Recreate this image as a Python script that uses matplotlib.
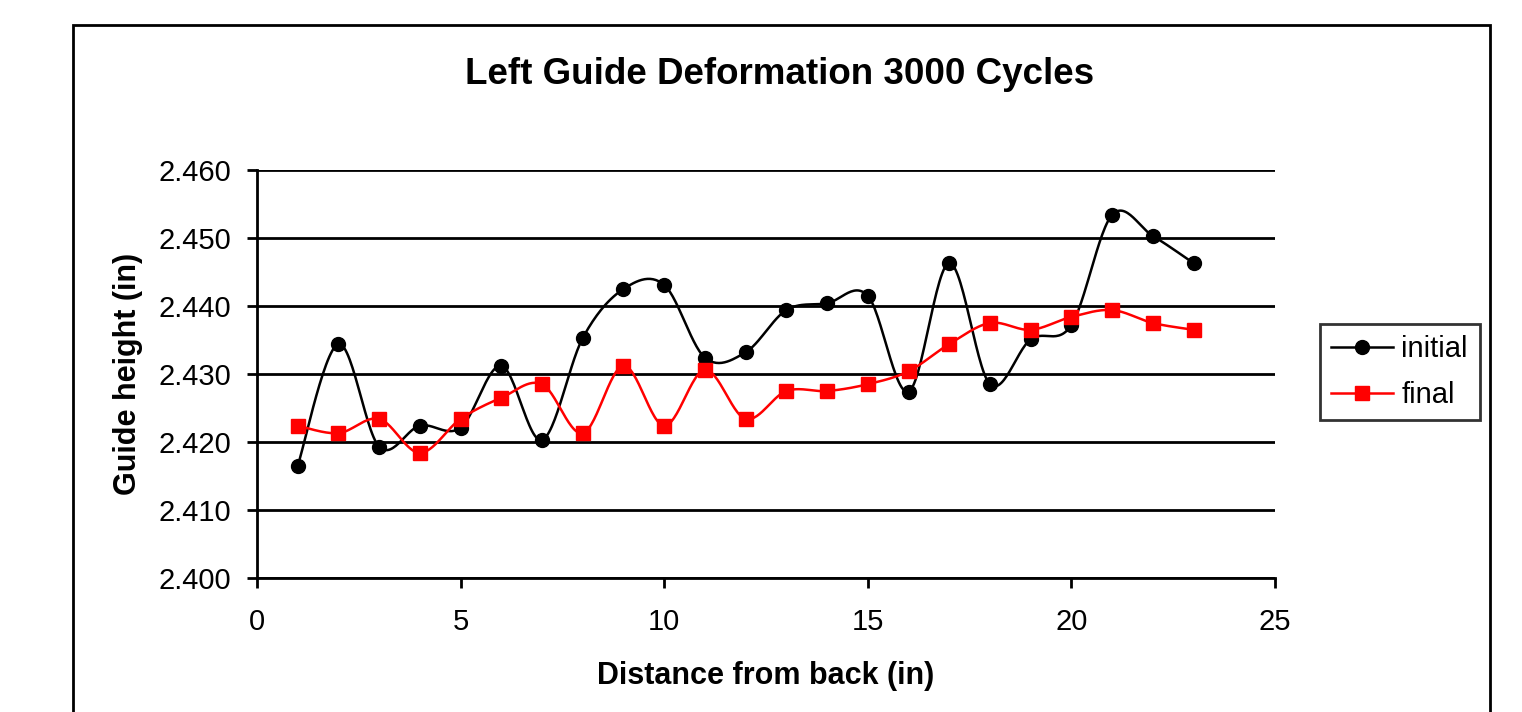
import numpy as np
import matplotlib
matplotlib.use("Agg")
import matplotlib.pyplot as plt
from matplotlib.patches import Rectangle

plt.rcParams['font.family'] = ['Liberation Sans', 'DejaVu Sans']

distance = list(range(1, 24))
initial = [2.4165, 2.4344, 2.4193, 2.4224, 2.4221, 2.4312, 2.4203, 2.4353,
           2.4425, 2.4431, 2.4324, 2.4332, 2.4394, 2.4404, 2.4415, 2.4274,
           2.4463, 2.4285, 2.4351, 2.4372, 2.4534, 2.4503, 2.4463]
final = [2.4224, 2.4213, 2.4234, 2.4184, 2.4234, 2.4265, 2.4285, 2.4213,
         2.4312, 2.4224, 2.4306, 2.4234, 2.4275, 2.4275, 2.4285, 2.4304,
         2.4344, 2.4375, 2.4365, 2.4384, 2.4394, 2.4375, 2.4365]
y_ticks = [2.400, 2.410, 2.420, 2.430, 2.440, 2.450, 2.460]
x_ticks = [0, 5, 10, 15, 20, 25]


def smooth_curve(xs, ys, steps=30):
    # Excel-style smoothed line: cubic Bezier through each point
    xs = np.asarray(xs, float)
    ys = np.asarray(ys, float)
    n = len(xs)
    px, py = [], []
    for i in range(n - 1):
        x0, y0 = (xs[i - 1], ys[i - 1]) if i > 0 else (xs[i], ys[i])
        x3, y3 = (xs[i + 2], ys[i + 2]) if i + 2 < n else (xs[i + 1], ys[i + 1])
        c1x = xs[i] + (xs[i + 1] - x0) / 6
        c1y = ys[i] + (ys[i + 1] - y0) / 6
        c2x = xs[i + 1] - (x3 - xs[i]) / 6
        c2y = ys[i + 1] - (y3 - ys[i]) / 6
        t = np.linspace(0, 1, steps)
        a, b, c, d = (1 - t) ** 3, 3 * (1 - t) ** 2 * t, 3 * (1 - t) * t ** 2, t ** 3
        px.extend(a * xs[i] + b * c1x + c * c2x + d * xs[i + 1])
        py.extend(a * ys[i] + b * c1y + c * c2y + d * ys[i + 1])
    return px, py


fig = plt.figure(figsize=(15.22, 7.12), dpi=100)
fig.patches.append(Rectangle((73 / 1522, -0.1), (1490 - 73) / 1522, 1.1 - 25 / 712,
                             transform=fig.transFigure, fill=False,
                             edgecolor='black', linewidth=2))

ax = fig.add_axes([257 / 1522, 1 - 578 / 712, (1275 - 257) / 1522, 408 / 712])

for ys, color, marker, label in [(initial, 'black', 'o', 'initial'),
                                 (final, 'red', 's', 'final')]:
    sx, sy = smooth_curve(distance, ys)
    ax.plot(sx, sy, color=color, linewidth=1.8, zorder=3)
    ax.plot(distance, ys, linestyle='none', marker=marker, color=color,
            markersize=10, zorder=4)
    ax.plot([], [], color=color, marker=marker, markersize=10, linewidth=1.8,
            label=label)

ax.set_xlim(0, 25)
ax.set_ylim(2.400, 2.460)
ax.set_xticks(x_ticks)
ax.set_yticks(y_ticks)
ax.set_yticklabels([f"{v:.3f}" for v in y_ticks])
ax.grid(axis='y', color='black', linewidth=2)
ax.set_axisbelow(True)
for side in ['top', 'right']:
    ax.spines[side].set_visible(False)
for side in ['left', 'bottom']:
    ax.spines[side].set_linewidth(2)
ax.tick_params(direction='out', length=7.5, width=2, labelsize=21)
ax.tick_params(axis='x', pad=14)
ax.tick_params(axis='y', pad=11)

fig.text(780 / 1522, 1 - 75 / 712,
         "Left Guide Deformation 3000 Cycles", fontsize=26.5, fontweight='bold',
         ha='center', va='center')
ax.set_xlabel("Distance from back (in)", fontsize=22, fontweight='bold', va='center')
ax.xaxis.set_label_coords(0.5, (578 - 676) / 408)
ax.set_ylabel("Guide height (in)", fontsize=22, fontweight='bold', va='center')
ax.yaxis.set_label_coords((128 - 257) / 1018, 0.5)

leg = ax.legend(loc='center left', bbox_to_anchor=(1.044, 0.505), fontsize=21,
                frameon=True, fancybox=False, edgecolor='black',
                handlelength=2.1, handletextpad=0.3, borderpad=0.4,
                labelspacing=0.6, borderaxespad=0)
leg.get_frame().set_linewidth(2)

fig.savefig("out.png", dpi=100)
